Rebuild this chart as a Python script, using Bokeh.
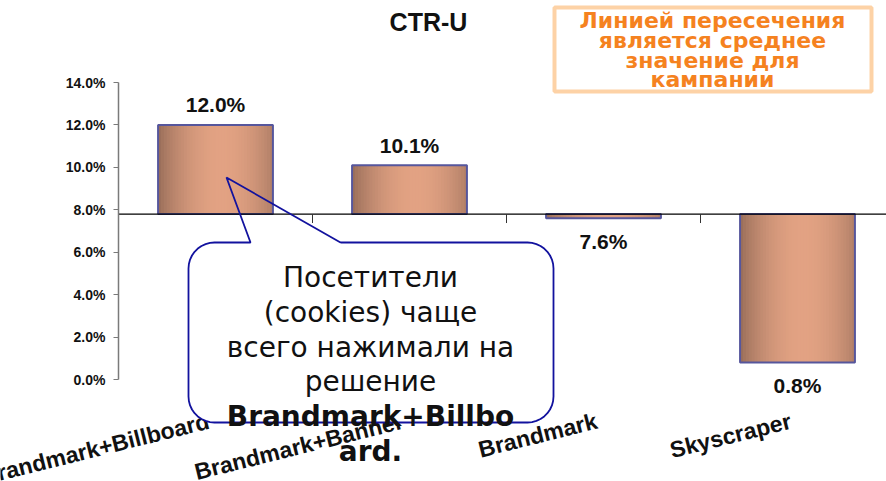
import numpy as np
from bokeh.plotting import figure
from bokeh.models import Range1d, FixedTicker, PrintfTickFormatter, ColumnDataSource
from bokeh.core.properties import value
from bokeh.embed import file_html
from bokeh.resources import INLINE

# ---------------- data ----------------
categories = ["Brandmark+Billboard", "Brandmark+Banner", "Brandmark", "Skyscraper"]
ctr_u = [12.0, 10.1, 7.6, 0.8]
value_labels = ["12.0%", "10.1%", "7.6%", "0.8%"]
campaign_average = 7.8
y_ticks = [0, 2, 4, 6, 8, 10, 12, 14]
title_text = "CTR-U"
note_lines = ["Линией пересечения", "является среднее", "значение для", "кампании"]
callout_lines = ["Посетители", "(cookies) чаще", "всего нажимали на", "решение",
                 "Brandmark+Billbo", "ard."]
callout_styles = ["normal", "normal", "normal", "normal", "bold", "bold"]

# ---------------- layout helpers (page pixels -> data) ----------------
W, H = 886, 481
PPU = 297.0 / 14.0          # pixels per percent
CAT_W = 194.0               # pixels per category
Y0_PAGE = 379.0             # page y of 0 %
X0_PAGE = 118.0             # page x of the value axis


def dx(px):
    return (px - X0_PAGE) / CAT_W


def dy(py):
    return (Y0_PAGE - py) / PPU


p = figure(width=W, height=H, output_backend="svg", toolbar_location=None,
           x_range=Range1d(dx(0), dx(W)), y_range=Range1d(dy(H), dy(0)),
           min_border_left=0, min_border_right=0, min_border_top=0, min_border_bottom=0)
p.outline_line_color = None
p.grid.visible = False
p.background_fill_color = "white"
p.border_fill_color = "white"

# ---------------- bars with horizontal gradient ----------------
edge = np.array([150, 108, 88])
center = np.array([226, 162, 131])
N = 40
half = 0.296
overlap = 1.2 / CAT_W
sl, sr, sb, st, sc = [], [], [], [], []
for i, v in enumerate(ctr_u):
    xc = i + 0.5
    lo, hi = min(v, campaign_average), max(v, campaign_average)
    edges = np.linspace(xc - half, xc + half, N + 1)
    for k in range(N):
        t = (k + 0.5) / N
        d = min(abs(t - 0.55) / 0.55, 1.0)
        f = np.cos(np.pi / 2 * d) ** 0.8
        c = edge + (center - edge) * f
        sl.append(edges[k]); sr.append(min(edges[k + 1] + overlap, xc + half))
        sb.append(lo); st.append(hi)
        sc.append("#%02x%02x%02x" % tuple(int(round(x)) for x in c))
p.quad(left=sl, right=sr, bottom=sb, top=st, fill_color=sc, line_color=None)

bar_src = ColumnDataSource(dict(
    left=[i + 0.5 - half for i in range(len(ctr_u))],
    right=[i + 0.5 + half for i in range(len(ctr_u))],
    bottom=[min(v, campaign_average) for v in ctr_u],
    top=[max(v, campaign_average) for v in ctr_u],
))
p.quad(left="left", right="right", bottom="bottom", top="top", source=bar_src,
       fill_color=None, line_color="#56569c", line_width=2)

# baseline (campaign average) from the value axis to the right edge
p.segment(x0=[0], x1=[dx(W) + 0.1], y0=[campaign_average], y1=[campaign_average],
          line_color="black", line_width=1.2)
# category separators on the baseline
p.segment(x0=list(range(1, len(categories))), x1=list(range(1, len(categories))),
          y0=[campaign_average] * (len(categories) - 1),
          y1=[campaign_average - 9 / PPU] * (len(categories) - 1),
          line_color="#333333", line_width=1)

# value labels
lab_y = [v + 20 / PPU if v > campaign_average else v - 23 / PPU for v in ctr_u]
p.text(x=[i + 0.5 for i in range(len(ctr_u))], y=lab_y, text=value_labels,
       text_align="center", text_baseline="middle",
       text_font=value("Liberation Sans"), text_font_style="bold",
       text_font_size="21px", text_color="#111111")

# ---------------- value axis ----------------
ya = p.yaxis[0]
ya.fixed_location = 0
ya.bounds = (0, 14)
ya.ticker = FixedTicker(ticks=y_ticks)
ya.formatter = PrintfTickFormatter(format="%.1f%%")
ya.axis_line_color = "#7a7a7a"
ya.axis_line_width = 1.5
ya.major_tick_line_color = "#7a7a7a"
ya.major_tick_out = 5
ya.major_tick_in = 0
ya.minor_tick_line_color = None
ya.major_label_standoff = 8
ya.major_label_text_font = "Liberation Sans"
ya.major_label_text_font_style = "bold"
ya.major_label_text_font_size = "14px"
ya.major_label_text_color = "#111111"

# ---------------- category labels (slanted, right end near category centre) ----------------
p.xaxis.visible = False
label_shift = 0.035
p.text(x=[i + 0.5 - label_shift for i in range(len(categories))],
       y=[dy(Y0_PAGE + 41)] * len(categories), text=categories,
       angle=np.radians(14), text_align="right", text_baseline="middle",
       text_font=value("Liberation Sans"), text_font_style="bold",
       text_font_size="23px", text_color="#111111")

# ---------------- title ----------------
p.text(x=[dx(428)], y=[dy(21)], text=[title_text], text_align="center",
       text_baseline="middle", text_font=value("Liberation Sans"),
       text_font_style="bold", text_font_size="25px", text_color="#111111")

# ---------------- orange note box ----------------
p.quad(left=[dx(554)], right=[dx(871)], top=[dy(7)], bottom=[dy(91)],
       fill_color="white", line_color="#fdd2a6", line_width=4)
p.text(x=[dx(712)] * len(note_lines), y=[dy(c) for c in [20, 40, 60, 79]],
       text=note_lines, text_align="center", text_baseline="middle",
       text_font=value("DejaVu Sans"), text_font_style="bold",
       text_font_size="22px", text_color="#f5821f")

# ---------------- callout ----------------
L, R, T, B, r = 188, 553, 242, 422, 26
a1, a2, tip = 250, 340, (226, 177)


def arc(cx, cy, s, e):
    ang = np.linspace(np.radians(s), np.radians(e), 10)
    return list(cx + r * np.cos(ang)), list(cy + r * np.sin(ang))


# rounded rectangle in page pixels (y down)
bx, by = [], []
for (cx, cy, s, e) in [(R - r, T + r, -90, 0), (R - r, B - r, 0, 90),
                       (L + r, B - r, 90, 180), (L + r, T + r, 180, 270)]:
    ax_, ay_ = arc(cx, cy, s, e)
    bx += ax_; by += ay_
box = p.patch(x=[dx(x) for x in bx], y=[dy(y) for y in by], fill_color="white", line_color=None)
box.level = "overlay"

ox = [a2] + bx + [a1, tip[0], a2]
oy = [T] + by + [T, tip[1], T]
outline = p.line(x=[dx(x) for x in ox], y=[dy(y) for y in oy], line_color="#12129e", line_width=1.8)
outline.level = "overlay"

csrc = ColumnDataSource(dict(
    x=[dx(370)] * len(callout_lines),
    y=[dy(c) for c in [277, 312, 347, 381, 416, 451]],
    text=callout_lines,
    style=callout_styles,
))
ct = p.text(x="x", y="y", text="text", source=csrc, text_align="center",
            text_baseline="middle", text_font=value("DejaVu Sans"),
            text_font_style="style", text_font_size="28px", text_color="#111111")
ct.level = "overlay"

open("out.html", "w").write(file_html(p, INLINE))
